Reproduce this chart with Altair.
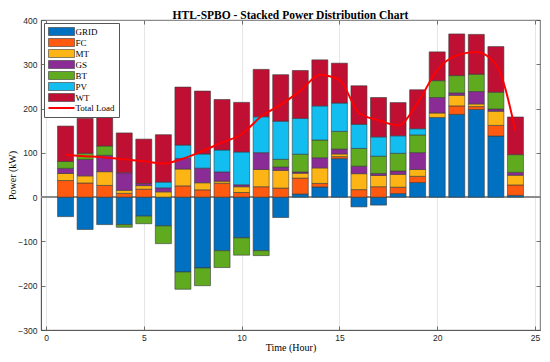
import altair as alt
import pandas as pd

hours = list(range(1, 25))
series_names = ["GRID", "FC", "MT", "GS", "BT", "PV", "WT"]
grid_kw = [-44, -73, -62, -62, -43, -65, -169, -160, -121, -92, -121, -46, 7, 23, 87, -22, -18, 8, 33, 180, 187, 198, 138, 4]
fc_kw = [37.5, 32, 26.5, 8.5, 18, 0, 25.5, 16.5, 31.5, 10.5, 23.5, 20.5, 36, 8, 4.5, 17, 23.5, 14.5, 14, 0, 19, 6.5, 24, 23.5]
mt_kw = [16, 16, 31, 7, 8, 12, 38, 16, 4.5, 13, 39, 40, 11, 35, 6, 36, 25.5, 29, 15.5, 10, 24, 6, 32, 22]
gs_kw = [11.5, 37, 37, 39.5, 5, 9, 24, 33, 21, 4.5, 38, 7.5, 3, 23, 11, 17, 4.5, 7.5, 38, 35, 5.5, 28, 5, 6.5]
bt_kw = [15.5, 14, 21, -6, -17, -40, -39, -40, -38, -39, -11, 17.5, 40, 40, 40, 40, 39, 40, 40, 38, 39, 39, 38, 40]
pv_kw = [0, 0, 0, 0, 0, 13, 30, 32, 49.5, 74, 81, 86, 81, 77, 64, 54.5, 43.5, 39.5, 14, 0, 0, 0, 0, 0]
wt_kw = [80, 79, 69, 90, 100, 107, 131, 142, 114, 112, 107, 105, 108, 104, 90, 87, 89, 75, 88, 65, 94, 90, 103, 85]
total_load = [95.6, 92.6, 89.7, 85.3, 80.9, 75.7, 86.8, 104, 123.5, 142, 182, 209, 240, 276, 265, 190, 173.5, 162, 213, 287, 320, 328, 300, 150]

series_colors = ["#0070C0", "#FF5A0F", "#FDB515", "#8B2C96", "#5FAA1F", "#12BEF0", "#BF0F33"]
load_name = "Total Load"
load_color = "#FF0000"
x_ticks = [0, 5, 10, 15, 20, 25]
y_ticks = [-300, -200, -100, 0, 100, 200, 300, 400]

rows = []
for k, (name, vals) in enumerate(zip(series_names, [grid_kw, fc_kw, mt_kw, gs_kw, bt_kw, pv_kw, wt_kw])):
    for h, v in zip(hours, vals):
        rows.append({"hour": h, "series": name, "value": v, "order": k})
bars_df = pd.DataFrame(rows)
load_df = pd.DataFrame({"hour": hours, "value": total_load, "series": load_name})

domain = series_names + [load_name]
rect_path = "M-3.25,-1H3.25V1H-3.25Z"
line_path = "M-3.25,0H3.25"

W, H = 499, 310

legend = alt.Legend(
    title=None, orient="none", legendX=3, legendY=3,
    fillColor="white", strokeColor="#555555", padding=4, rowPadding=0,
    labelFont="Liberation Serif", labelFontSize=9, labelColor="#000000",
    symbolSize=64, symbolOpacity=1, symbolOffset=8.5, labelOffset=9,
)
fill = alt.Fill("series:N", scale=alt.Scale(domain=domain, range=series_colors + [load_color]), legend=legend)
stroke = alt.Stroke("series:N", scale=alt.Scale(domain=domain, range=["#3a3a3a"] * 7 + [load_color]), legend=legend)
swidth = alt.StrokeWidth("series:N", scale=alt.Scale(type="ordinal", domain=domain, range=[0.6] * 7 + [2]), legend=legend)
shape = alt.Shape("series:N", scale=alt.Scale(domain=domain, range=[rect_path] * 7 + [line_path]), legend=legend)

xscale = alt.Scale(domain=[0, 25], nice=False, zero=False)
yscale = alt.Scale(domain=[-300, 400], nice=False)

lab = dict(labelFont="Liberation Sans", labelFontSize=8.5, labelColor="#262626",
           titleFont="Liberation Serif", titleFontSize=10, titleFontWeight="normal",
           titleColor="#000000", domainColor="#4d4d4d", domainWidth=0.8,
           ticks=False, gridColor="#e0e0e0", gridWidth=0.8)
tickonly = dict(labels=False, title=None, grid=False, domain=False, ticks=True,
                tickSize=4, tickColor="#4d4d4d", tickWidth=0.8)

# inward ticks on the right edge (a left axis moved to the right edge)
zero_rule = alt.Chart(bars_df).mark_rule(color="#8c8c8c", strokeWidth=1).encode(
    y=alt.Y(datum=0, scale=yscale,
            axis=alt.Axis(orient="left", offset=-W, values=y_ticks, **tickonly))
)

bars = alt.Chart(bars_df).transform_filter("datum.value != 0").mark_bar(size=16).encode(
    x=alt.X("hour:Q", scale=xscale,
            axis=alt.Axis(orient="bottom", values=x_ticks, title="Time (Hour)", labelPadding=3, titlePadding=1, **lab)),
    y=alt.Y("value:Q", stack="zero", scale=yscale,
            axis=alt.Axis(orient="left", values=y_ticks, title="Power (kW)", labelPadding=4, titlePadding=0, **lab)),
    fill=fill, stroke=stroke, strokeWidth=swidth,
    order=alt.Order("order:Q", sort="ascending"),
)

# inward ticks at the bottom and on the left edge
line = alt.Chart(load_df).mark_line(interpolate="monotone").encode(
    x=alt.X("hour:Q", scale=xscale, axis=alt.Axis(orient="top", offset=-H, values=x_ticks, **tickonly)),
    y=alt.Y("value:Q", scale=yscale, axis=alt.Axis(orient="right", offset=-W, values=y_ticks, **tickonly)),
    stroke=stroke, strokeWidth=swidth,
)

# inward ticks at the top + legend symbol shapes (draws no data)
keys = alt.Chart(load_df).transform_filter("false").mark_point(filled=True).encode(
    x=alt.X("hour:Q", scale=xscale, axis=alt.Axis(orient="bottom", offset=-H, values=x_ticks, **tickonly)),
    y=alt.Y("value:Q", scale=yscale, axis=None),
    fill=fill, stroke=stroke, strokeWidth=swidth, shape=shape,
)

chart = alt.layer(zero_rule, bars, line, keys).resolve_axis(x="independent", y="independent").properties(
    width=W, height=H,
    autosize=alt.AutoSizeParams(type="none"),
    padding={"left": 33, "top": 12, "right": 2, "bottom": 24},
    title=alt.TitleParams("HTL-SPBO - Stacked Power Distribution Chart", font="Liberation Serif",
                          fontSize=11.5, fontWeight="bold", color="#000000", anchor="middle",
                          baseline="alphabetic", offset=0, dy=14),
).configure_view(stroke="#4d4d4d", strokeWidth=0.8)

chart.save("out.html", embed_options={"renderer": "svg", "actions": False})
